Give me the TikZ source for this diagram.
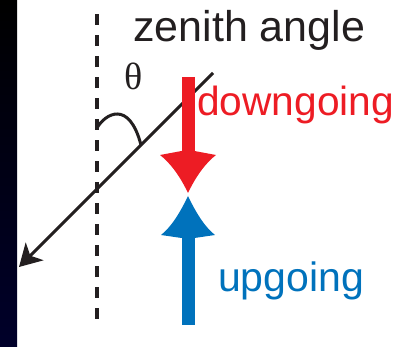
\documentclass[tikz,border=0pt]{standalone}
\usepackage{fontspec}
\setmainfont{Liberation Sans}
\newfontfamily\greekfont{Liberation Serif}
\usepackage{tikz}
\usetikzlibrary{arrows.meta,calc}

\definecolor{downred}{RGB}{237,28,36}
\definecolor{upblue}{RGB}{0,114,188}
\definecolor{stripnavy}{RGB}{0,0,42}
\definecolor{inkblack}{RGB}{35,31,32}

\begin{document}
\begin{tikzpicture}[x=1pt,y=-1pt,
    guide/.style={inkblack, line width=4pt, dash pattern=on 10.5pt off 10.5pt},
    track/.style={inkblack, line width=3pt, -{Stealth[length=22pt,width=25pt,inset=6pt]}},
    shaft/.style={line width=13pt},
    label/.style={inner sep=0pt, anchor=base west}]

  \useasboundingbox (0,0) rectangle (405,347);

  % ── dark strip on the left ──────────────────────────────────────────
  \shade[top color=black, bottom color=stripnavy] (0,0) rectangle (17,347);

  % ── zenith direction and the incoming track ─────────────────────────
  \coordinate (ztop) at (97,14.3);
  \coordinate (zbot) at (97,320);
  \draw[guide] (ztop) -- (zbot);

  \coordinate (ttop) at (213,73);
  \coordinate (ttip) at (19,267);
  \draw[track] (ttop) -- (ttip);

  % ── the angle between them ──────────────────────────────────────────
  \coordinate (aone) at (97,128);
  \coordinate (atwo) at (141,145);
  \draw[inkblack, line width=3pt] (aone) .. controls (105,114) and (129,99) .. (atwo);
  \node[inner sep=0pt, text=inkblack, font=\greekfont\fontsize{38}{40}\selectfont] (theta) at (134,76) {θ};

  \node[label, text=inkblack, font=\fontsize{43}{50}\selectfont] (zenith) at (133,42) {zenith angle};

  % ── downgoing arrow ─────────────────────────────────────────────────
  \coordinate (dtop)  at (188,77);
  \coordinate (dneck) at (188,153);
  \coordinate (dtip)  at (188,193);
  \draw[shaft, downred] (dtop) -- (dneck);
  \begin{scope}[shift={(dtip)}]
    \fill[downred] (0,0) .. controls (9,-19) and (19,-31) .. (28,-38) -- (6.5,-42)
                   -- (-6.5,-42) -- (-28,-38) .. controls (-19,-31) and (-9,-19) .. cycle;
  \end{scope}
  \node[label, text=downred, font=\fontsize{40.7}{48}\selectfont] (down) at (197,116) {downgoing};

  % ── upgoing arrow ───────────────────────────────────────────────────
  \coordinate (ubot)  at (188,325);
  \coordinate (uneck) at (188,235);
  \coordinate (utip)  at (188,196);
  \draw[shaft, upblue] (ubot) -- (uneck);
  \begin{scope}[shift={(utip)}]
    \fill[upblue] (0,0) .. controls (9,19) and (18,32) .. (27,39) -- (6.5,42)
                  -- (-6.5,42) -- (-27,39) .. controls (-18,32) and (-9,19) .. cycle;
  \end{scope}
  \node[label, text=upblue, font=\fontsize{41}{48}\selectfont] (up) at (218,292) {upgoing};

\end{tikzpicture}
\end{document}
